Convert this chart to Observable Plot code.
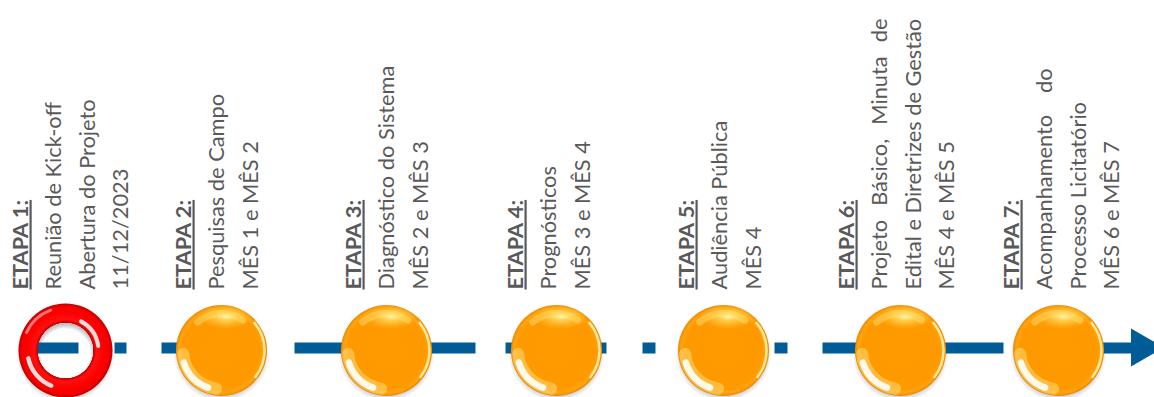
<!DOCTYPE html>
<html><head><meta charset="utf-8">
<script src="https://cdn.jsdelivr.net/npm/d3@7"></script>
<script src="https://cdn.jsdelivr.net/npm/@observablehq/plot@0.6"></script>
<style>
html,body{margin:0;padding:0;background:#fff;overflow:hidden;}
#chart svg{display:block;}
</style>
</head><body><div id="chart"></div>
<script>
// ---------- data ----------
const stageNames = ["ETAPA 1:", "ETAPA 2:", "ETAPA 3:", "ETAPA 4:", "ETAPA 5:", "ETAPA 6:", "ETAPA 7:"];
const stageLines = [
  ["Reunião de Kick-off", "Abertura do Projeto", "11/12/2023"],
  ["Pesquisas de Campo", "MÊS 1 e MÊS 2"],
  ["Diagnóstico do Sistema", "MÊS 2 e MÊS 3"],
  ["Prognósticos", "MÊS 3 e MÊS 4"],
  ["Audiência Pública", "MÊS 4"],
  ["Projeto Básico, Minuta de", "Edital e Diretrizes de Gestão", "MÊS 4 e MÊS 5"],
  ["Acompanhamento do", "Processo Licitatório", "MÊS 6 e MÊS 7"]
];
const stageStatus = ["atual", "prevista", "prevista", "prevista", "prevista", "prevista", "prevista"];
const markerPos = [65, 221, 386, 556, 723, 900, 1058];   // position of each stage on the timeline
const labelPos  = [27, 190, 360, 522, 693, 853, 1018];   // position of each stage's label column
const dashStart = [37, 114, 161, 294, 505, 586, 642, 774, 822, 1040];
const dashEnd   = [78, 126, 200, 475, 530, 606, 655, 787, 1003, 1131];
const justified = {"Projeto Básico, Minuta de": 271, "Acompanhamento do": 221};

// ---------- styles ----------
const W = 1154, H = 397;
const BLUE = "#005C97", TEXT = "#595959";
const LINE_Y = 347.5, CY = 350, TEXT_Y = 289, LINE_GAP = 33.5;
const family = "Lato";
const ctx = document.createElement("canvas").getContext("2d");
ctx.font = `100px ${family}`;
const fs = Math.round(100 * 271 / ctx.measureText(stageLines[5][1]).width * 10) / 10;

const markers = markerPos.map((x, i) => ({x, status: stageStatus[i]}));
const ring = markers.filter(d => d.status === "atual");
const spheres = markers.filter(d => d.status !== "atual");
const dashes = dashStart.map((s, i) => ({x1: s, x2: dashEnd[i]}));
const endX = dashEnd[dashEnd.length - 1];
const arrowHead = [{x: endX, y1: LINE_Y - 19, y2: LINE_Y + 19}, {x: endX + 33, y1: LINE_Y, y2: LINE_Y}];
const labels = stageNames.map((t, i) => ({t, x: labelPos[i]}));
const lines = stageLines.flatMap((ls, i) => ls.map((t, j) => ({t, x: labelPos[i] + (j + 1) * LINE_GAP})));

const rad = Math.PI / 180;
function arc(data, {r, a1, a2, stroke, width, opacity}) {
  return Plot.arrow(data, {
    x1: d => d.x + r * Math.cos(a1 * rad), y1: () => CY + r * Math.sin(a1 * rad),
    x2: d => d.x + r * Math.cos(a2 * rad), y2: () => CY + r * Math.sin(a2 * rad),
    bend: (a2 - a1) / 2, headLength: 0, stroke, strokeWidth: width,
    strokeOpacity: opacity, strokeLinecap: "round"
  });
}

const chart = Plot.plot({
  width: W, height: H, margin: 0,
  x: {domain: [0, W], axis: null},
  y: {domain: [0, H], reverse: true, axis: null},
  marks: [
    // shadows
    Plot.dot(spheres, {x: "x", y: () => CY + 3, r: 48, fill: "url(#sph-shadow)", stroke: null}),
    Plot.dot(ring, {x: "x", y: () => CY + 3, r: 49, fill: "url(#ring-shadow)", stroke: null}),
    // timeline
    Plot.link(dashes, {x1: "x1", x2: "x2", y1: () => LINE_Y, y2: () => LINE_Y, stroke: BLUE, strokeWidth: 11, strokeLinecap: "butt"}),
    Plot.areaY(arrowHead, {x: "x", y1: "y1", y2: "y2", fill: BLUE}),
    // spheres
    Plot.dot(spheres, {x: "x", y: () => CY, r: 45.5, fill: "url(#sph-body)", stroke: null}),
    arc(spheres, {r: 37, a1: -130, a2: -55, stroke: "#FFE27A", width: 7, opacity: 0.45}),
    Plot.dot(spheres, {x: "x", y: () => CY, r: 45.5, fill: "url(#sph-top)", stroke: null}),
    arc(spheres, {r: 38.5, a1: 98, a2: 175, stroke: "#FFF3A0", width: 12, opacity: 0.4}),
    arc(spheres, {r: 39.5, a1: 110, a2: 162, stroke: "#FFFFFF", width: 6.5, opacity: 0.9}),
    arc(spheres, {r: 43, a1: -40, a2: 38, stroke: "#FFF1A8", width: 2.5, opacity: 0.9}),
    // current-stage ring
    Plot.dot(ring, {x: "x", y: () => CY, r: 47, fill: "url(#ring-body)", stroke: null}),
    arc(ring, {r: 33, a1: -62, a2: -8, stroke: "#FFFFFF", width: 4, opacity: 0.85}),
    arc(ring, {r: 38, a1: 112, a2: 168, stroke: "#FFFFFF", width: 4.5, opacity: 0.85}),
    arc(ring, {r: 43, a1: 205, a2: 250, stroke: "#FFC0C0", width: 3, opacity: 0.6}),
    // labels
    Plot.text(labels, {x: "x", y: () => TEXT_Y, text: "t", rotate: -90, textAnchor: "start", lineAnchor: "bottom",
      fontFamily: family, fontSize: fs, fontWeight: "bold", fill: TEXT}),
    Plot.text(lines, {x: "x", y: () => TEXT_Y, text: "t", rotate: -90, textAnchor: "start", lineAnchor: "bottom",
      fontFamily: family, fontSize: fs, fill: TEXT})
  ]
});

const defs = document.createElementNS("http://www.w3.org/2000/svg", "defs");
defs.innerHTML = `
<radialGradient id="sph-shadow" cx="0.5" cy="0.5" r="0.5">
  <stop offset="0.80" stop-color="#000" stop-opacity="0.30"/>
  <stop offset="1" stop-color="#000" stop-opacity="0"/>
</radialGradient>
<radialGradient id="ring-shadow" cx="0.5" cy="0.5" r="0.5">
  <stop offset="0.50" stop-color="#000" stop-opacity="0"/>
  <stop offset="0.60" stop-color="#000" stop-opacity="0.25"/>
  <stop offset="0.84" stop-color="#000" stop-opacity="0.25"/>
  <stop offset="1" stop-color="#000" stop-opacity="0"/>
</radialGradient>
<radialGradient id="sph-body" cx="0.5" cy="0.5" r="0.5">
  <stop offset="0" stop-color="#FF9A00"/>
  <stop offset="0.85" stop-color="#FF9900"/>
  <stop offset="0.93" stop-color="#FFA412"/>
  <stop offset="1" stop-color="#EE8A00"/>
</radialGradient>
<radialGradient id="sph-top" cx="0.55" cy="0.13" r="0.3" gradientTransform="translate(0.55,0.13) scale(1,0.45) translate(-0.55,-0.13)">
  <stop offset="0" stop-color="#FFF6A8" stop-opacity="0.95"/>
  <stop offset="0.5" stop-color="#FFE060" stop-opacity="0.5"/>
  <stop offset="1" stop-color="#FFD040" stop-opacity="0"/>
</radialGradient>
<radialGradient id="ring-body" cx="0.5" cy="0.5" r="0.5">
  <stop offset="0.585" stop-color="#FF0000" stop-opacity="0"/>
  <stop offset="0.596" stop-color="#C40000"/>
  <stop offset="0.66" stop-color="#FF1010"/>
  <stop offset="0.8" stop-color="#FF0000"/>
  <stop offset="0.93" stop-color="#F40000"/>
  <stop offset="1" stop-color="#C00000"/>
</radialGradient>`;
chart.insertBefore(defs, chart.firstChild);
document.getElementById("chart").appendChild(chart);

// underline stage titles, justify wide lines
chart.querySelectorAll("text").forEach(el => {
  const t = el.textContent;
  if (stageNames.includes(t)) {
    el.style.textDecoration = "underline";
  } else if (justified[t]) {
    const natural = el.getComputedTextLength();
    const spaces = (t.match(/ /g) || []).length;
    if (spaces > 0 && justified[t] > natural) el.style.wordSpacing = ((justified[t] - natural) / spaces) + "px";
  }
});
</script>
</body></html>
